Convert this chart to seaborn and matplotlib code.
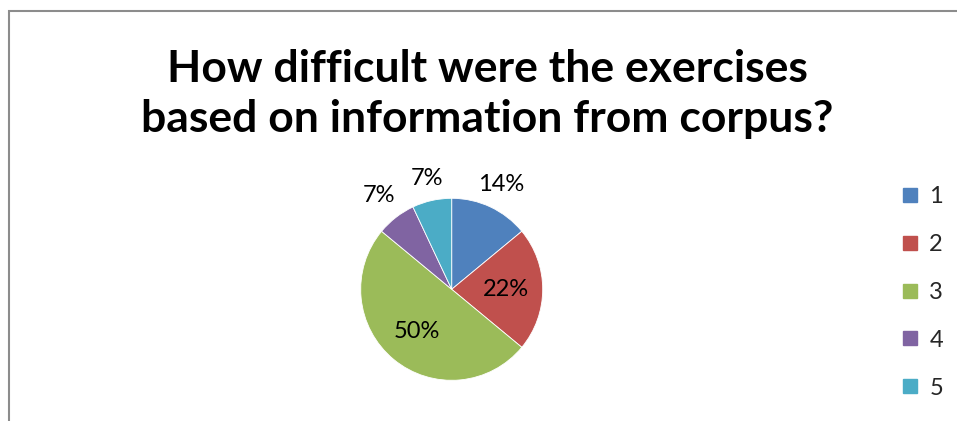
import matplotlib
matplotlib.use("Agg")
import matplotlib.pyplot as plt
import numpy as np
import seaborn as sns
from matplotlib.lines import Line2D
from matplotlib.patches import Rectangle

# Survey answers (difficulty scale 1-5) as percentages
categories = ["1", "2", "3", "4", "5"]
shares = [14, 22, 50, 7, 7]
pct_labels = ["14%", "22%", "50%", "7%", "7%"]
colors = ["#4F81BD", "#C0504D", "#9BBB59", "#8064A2", "#4BACC6"]
title = "How difficult were the exercises\nbased on information from corpus?"

# radial position of each percentage label (in pie radii)
label_radius = [1.27, 0.6, 0.6, 1.3, 1.25]

sns.set_theme(style="white")
plt.rcParams["font.family"] = ["Lato", "DejaVu Sans"]
palette = sns.color_palette(colors)

W, H = 957, 421
fig = plt.figure(figsize=(W / 100, H / 100), dpi=100)
fig.patch.set_facecolor("white")

# chart frame (gray border along left and top)
fig.patches.append(Rectangle((8.5 / W, -0.5), 2.0, 1.5 - 11 / H,
                             transform=fig.transFigure, fill=False,
                             edgecolor="#8c8c8c", linewidth=1.5, zorder=0))

fig.text(487 / W, 1 - 94 / H, title, ha="center", va="center",
         fontsize=32, fontweight="bold", color="black", linespacing=1.3)

cx, cy, R = 451.7, 289.3, 91
ax = fig.add_axes([(cx - R) / W, (H - cy - R) / H, 2 * R / W, 2 * R / H])
wedges, _ = ax.pie(shares, colors=palette, startangle=90, counterclock=False,
                   radius=1.0, wedgeprops=dict(edgecolor="white", linewidth=0.6))
ax.set_xlim(-1, 1)
ax.set_ylim(-1, 1)
ax.set_aspect("equal")
ax.axis("off")

for w, lab, r in zip(wedges, pct_labels, label_radius):
    mid = np.deg2rad((w.theta1 + w.theta2) / 2)
    ax.text(r * np.cos(mid), r * np.sin(mid), lab, ha="center", va="center",
            fontsize=17, color="black", clip_on=False)

handles = [Line2D([], [], linestyle="none", marker="s", markersize=10.5,
                  markerfacecolor=c, markeredgecolor=c) for c in palette]
fig.legend(handles, categories, loc="upper left",
           bbox_to_anchor=(901 / W, 1 - 186 / H), frameon=False,
           fontsize=17, labelspacing=1.14, handlelength=0.8,
           handletextpad=0.4, borderpad=0, borderaxespad=0)

fig.savefig("out.png", dpi=100, facecolor="white")
